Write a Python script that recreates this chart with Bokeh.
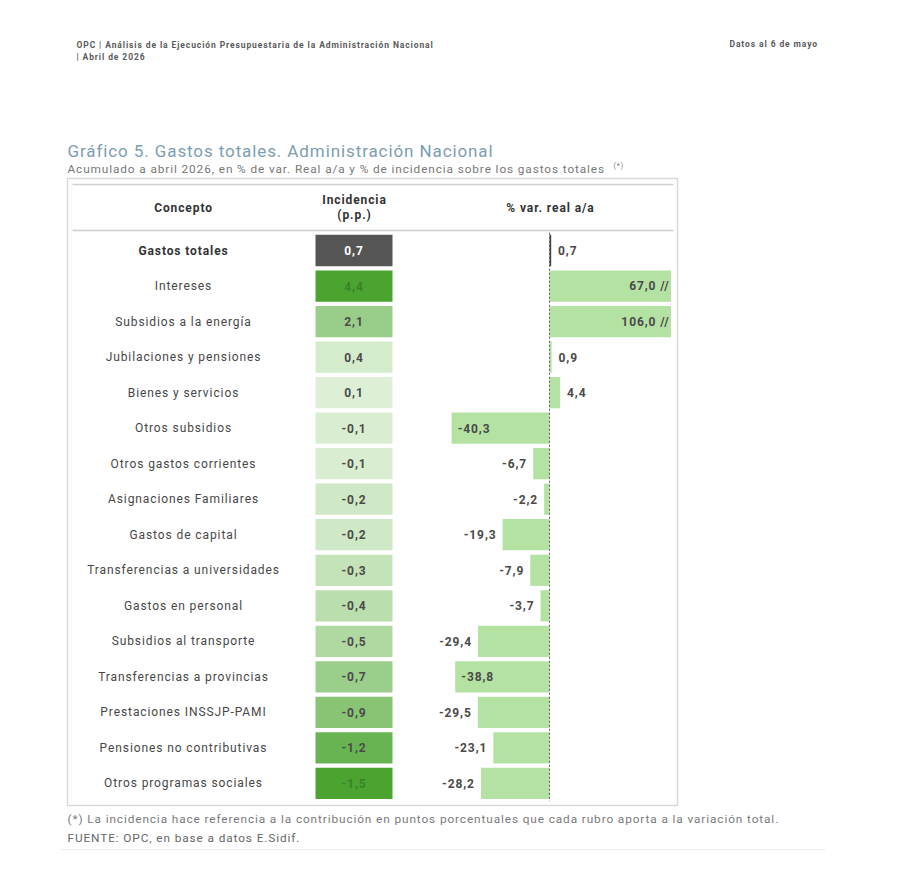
import numpy as np
from bokeh.plotting import figure
from bokeh.models import Range1d, ColumnDataSource, Label, InlineStyleSheet
from bokeh.core.properties import value
from bokeh.embed import file_html
from bokeh.resources import INLINE

# ---- data -------------------------------------------------------------
conceptos = [
    "Gastos totales", "Intereses", "Subsidios a la energía",
    "Jubilaciones y pensiones", "Bienes y servicios", "Otros subsidios",
    "Otros gastos corrientes", "Asignaciones Familiares", "Gastos de capital",
    "Transferencias a universidades", "Gastos en personal",
    "Subsidios al transporte", "Transferencias a provincias",
    "Prestaciones INSSJP-PAMI", "Pensiones no contributivas",
    "Otros programas sociales",
]
incidencia = [0.7, 4.4, 2.1, 0.4, 0.1, -0.1, -0.1, -0.2, -0.2, -0.3, -0.4,
              -0.5, -0.7, -0.9, -1.2, -1.5]
var_real = [0.7, 67.0, 106.0, 0.9, 4.4, -40.3, -6.7, -2.2, -19.3, -7.9, -3.7,
            -29.4, -38.8, -29.5, -23.1, -28.2]

# axis break for the % var. panel (bars beyond this are cut and marked "//")
CORTE = 50.0

FONT = "Roboto"
LS = 0.9              # letter spacing (px) applied to every text
W, H = 900, 876

# ---- layout constants (page pixels) ----------------------------------
ZERO_X = 549          # position of the 0 % line
PX_PER_PCT = 2.43     # horizontal scale of the % var. panel
ROW0_Y = 250          # centre of the first row
ROW_STEP = 35.53      # distance between rows


def fmt(v):
    return f"{v:.1f}".replace(".", ",")


def mix(c1, c2, t):
    a = [int(c1[i:i + 2], 16) for i in (1, 3, 5)]
    b = [int(c2[i:i + 2], 16) for i in (1, 3, 5)]
    return "#" + "".join(f"{round(x + (y - x) * t):02x}" for x, y in zip(a, b))


def shift(text, align):
    # the extra tracking is not part of the measured width, so pull
    # centred / right-aligned texts back by the added amount
    k = {"left": 0.0, "center": 0.5, "right": 1.0}[align]
    return -k * len(text) * LS


inc = np.array(incidencia)
var = np.array(var_real)
rows = np.arange(len(conceptos))

# cell colours: separate intensity scales for positive and negative values
pos_max = inc[1:].max()
neg_min = inc[1:].min()
LIGHT, DARK = "#e3f3dc", "#4ba42f"
cell_colors, cell_text_colors = [], []
for i, v in enumerate(inc):
    if i == 0:
        cell_colors.append("#555555")
        cell_text_colors.append("#ffffff")
        continue
    t = v / pos_max if v >= 0 else v / neg_min
    t = max(t, 0.04)
    cell_colors.append(mix(LIGHT, DARK, t))
    cell_text_colors.append("#3a8228" if t > 0.9 else "#4a4a4a")

bar_right = np.clip(var, -CORTE, CORTE)
bar_colors = ["#444444"] + ["#b4e2a3"] * (len(var) - 1)

# value labels of the % var. bars
lab_x, lab_align, lab_text = [], [], []
for v, r in zip(var, bar_right):
    txt = fmt(v)
    if v > CORTE:
        lab_x.append(r - 0.6)
        lab_align.append("right")
        txt += " //"
    elif v >= 0:
        lab_x.append(r + 2.8)
        lab_align.append("left")
    elif v < -35:
        lab_x.append(r + 2.5)
        lab_align.append("left")
    else:
        lab_x.append(r - 2.5)
        lab_align.append("right")
    lab_text.append(txt)

inc_txt = [fmt(v) for v in inc]
src = ColumnDataSource(dict(
    row=rows,
    concepto=conceptos,
    concepto_dx=[shift(c, "center") for c in conceptos],
    inc_txt=inc_txt,
    inc_dx=[shift(c, "center") for c in inc_txt],
    cell_color=cell_colors,
    cell_text_color=cell_text_colors,
    bar_right=bar_right,
    bar_color=bar_colors,
    lab_x=lab_x,
    lab_align=lab_align,
    lab_text=lab_text,
    lab_dx=[shift(t, a) for t, a in zip(lab_text, lab_align)],
    name_style=["bold"] + ["normal"] * (len(rows) - 1),
    name_color=["#333333"] + ["#474747"] * (len(rows) - 1),
))

# ---- figure ----------------------------------------------------------
p = figure(width=W, height=H, x_range=Range1d(0, W), y_range=Range1d(H, 0),
           output_backend="svg", toolbar_location=None, min_border=0,
           x_axis_location=None, y_axis_location=None,
           outline_line_color=None, background_fill_color="white",
           border_fill_color="white")
p.grid.visible = False
p.stylesheets = [InlineStyleSheet(css=f":host {{ letter-spacing: {LS}px; }}")]

p.extra_x_ranges = {"pct": Range1d(-ZERO_X / PX_PER_PCT, (W - ZERO_X) / PX_PER_PCT)}
p.extra_y_ranges = {"row": Range1d((H - ROW0_Y) / ROW_STEP, -ROW0_Y / ROW_STEP)}

# table frame and header rules
p.quad(left=67, right=677, top=178, bottom=805, fill_color=None,
       line_color="#d9d9d9", line_width=1.5)
p.segment(x0=[72, 72], x1=[673, 673], y0=[184, 230], y1=[184, 230],
          line_color="#cfcfcf", line_width=1.5)

# incidence heat cells
p.rect(x=353.5, y="row", width=77, height=0.88, y_range_name="row",
       fill_color="cell_color", line_color=None, source=src)
p.text(x=353.5, y="row", text="inc_txt", x_offset="inc_dx",
       y_range_name="row", source=src,
       text_align="center", text_baseline="middle", text_font=value(FONT),
       text_font_size="12px", text_font_style="bold",
       text_color="cell_text_color")

# % var. real bars
p.hbar(y="row", left=0, right="bar_right", height=0.88, x_range_name="pct",
       y_range_name="row", fill_color="bar_color", line_color=None, source=src)
p.segment(x0=0, x1=0, y0=-0.5, y1=len(rows) - 0.5, x_range_name="pct",
          y_range_name="row", line_color="#555555", line_width=1,
          line_dash="2 2")
p.text(x="lab_x", y="row", text="lab_text", x_offset="lab_dx",
       x_range_name="pct", y_range_name="row", source=src,
       text_align="lab_align", text_baseline="middle", text_font=value(FONT),
       text_font_size="12px", text_font_style="bold", text_color="#4a4a4a")

# row names
p.text(x=183, y="row", text="concepto", x_offset="concepto_dx",
       y_range_name="row", source=src,
       text_align="center", text_baseline="middle", text_font=value(FONT),
       text_font_size="12px", text_font_style="name_style",
       text_color="name_color")


def label(x, y, text, size, color="#555555", style="normal", align="left"):
    p.add_layout(Label(x=x, y=y, text=text, text_font=FONT,
                       text_font_size=size, text_color=color,
                       text_font_style=style, text_align=align,
                       text_baseline="middle", x_offset=shift(text, align)))


# page header
label(76, 44, "OPC  | Análisis de la Ejecución Presupuestaria de la Administración Nacional",
      "8.5px", "#5a5a5a", "bold")
label(76, 56, "| Abril de 2026", "8.5px", "#5a5a5a", "bold")
label(729, 43, "Datos al 6 de mayo", "8.5px", "#5a5a5a", "bold")

# title block
label(67, 150, "Gráfico 5. Gastos totales. Administración Nacional", "17px", "#7e9db2")
label(67, 168, "Acumulado a abril 2026, en % de var. Real a/a y % de incidencia sobre los gastos totales",
      "11.8px", "#777777")
label(613, 165, "(*)", "7px", "#777777")

# table header
label(183, 207, "Concepto", "12px", "#333333", "bold", "center")
label(354, 199, "Incidencia", "12px", "#333333", "bold", "center")
label(354, 214, "(p.p.)", "12px", "#333333", "bold", "center")
label(550, 207, "% var. real a/a", "12px", "#333333", "bold", "center")

# footnotes
label(67, 818, "(*) La incidencia hace referencia a la contribución en puntos porcentuales que cada rubro aporta a la variación total.",
      "11.8px", "#7a7a7a")
label(67, 837, "FUENTE: OPC, en base a datos E.Sidif.", "11.8px", "#666666")
p.segment(x0=60, x1=825, y0=849, y1=849, line_color="#eeeeee", line_width=1)

open("out.html", "w").write(file_html(p, INLINE))
